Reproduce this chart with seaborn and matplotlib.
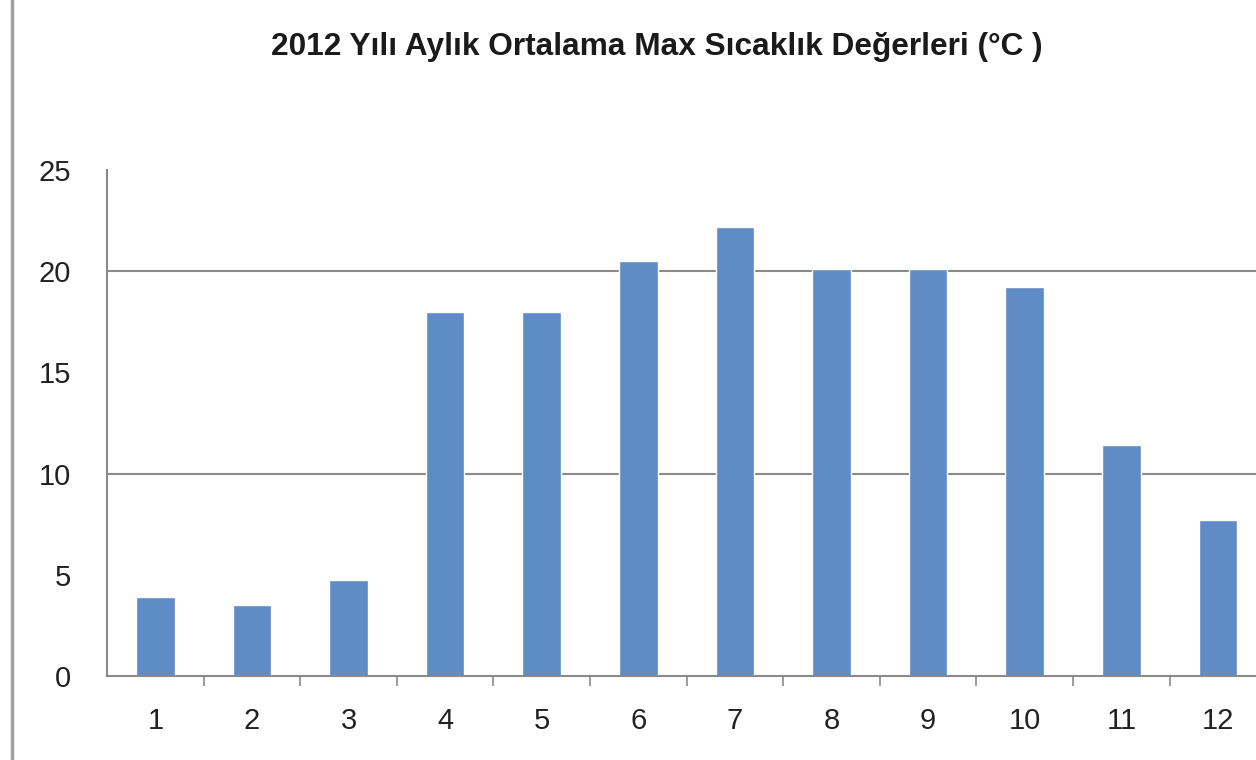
import matplotlib
matplotlib.use("Agg")
import matplotlib.pyplot as plt
from matplotlib.lines import Line2D
from matplotlib.ticker import FixedLocator
import seaborn as sns
import pandas as pd

# Monthly mean maximum temperatures for 2012 (°C)
months = ["1", "2", "3", "4", "5", "6", "7", "8", "9", "10", "11", "12"]
max_temps = [3.9, 3.5, 4.75, 18.0, 18.0, 20.5, 22.2, 20.1, 20.1, 19.2, 11.4, 7.7]
y_ticks = [0, 5, 10, 15, 20, 25]
grid_levels = [10, 20]
title_text = "2012 Yılı Aylık Ortalama Max Sıcaklık Değerleri (°C )"

df = pd.DataFrame({"month": months, "temp": max_temps})

sns.set_theme(style="white")
plt.rcParams["font.family"] = ["Liberation Sans", "DejaVu Sans"]

axis_gray = "#8a8a8a"
bar_blue = "#5F8CC4"

fig = plt.figure(figsize=(12.56, 7.6), dpi=100)
ax = fig.add_axes([0.0852, 0.1105, 0.923, 0.6658])

sns.barplot(data=df, x="month", y="temp", color=bar_blue, width=0.4,
            saturation=1, ax=ax, zorder=3)

ax.set_xlim(-0.5, len(months) - 0.5)
ax.set_ylim(0, 25)
ax.set_xlabel("")
ax.set_ylabel("")

# y axis: labels every 5, gridlines at 10 and 20 that poke out to the left
ax.yaxis.set_major_locator(FixedLocator(y_ticks))
ax.set_yticklabels([str(v) for v in y_ticks])
ax.yaxis.set_minor_locator(FixedLocator(grid_levels))
ax.tick_params(axis="y", which="major", length=0, pad=26, labelsize=21,
               labelcolor="#222222")
ax.tick_params(axis="y", which="minor", length=10, width=1.5,
               color=axis_gray, direction="out", left=True)
ax.grid(False)
for lvl in grid_levels:
    ax.axhline(lvl, color=axis_gray, lw=1.5, zorder=1)

# x axis: small tick marks on category boundaries
ax.xaxis.set_minor_locator(FixedLocator([i + 0.5 for i in range(len(months) - 1)]))
ax.tick_params(axis="x", which="major", length=0, pad=22, labelsize=21,
               labelcolor="#222222")
ax.tick_params(axis="x", which="minor", length=7, width=1.2,
               color=axis_gray, direction="out", bottom=True)

for side in ["top", "right"]:
    ax.spines[side].set_visible(False)
for side in ["left", "bottom"]:
    ax.spines[side].set_color(axis_gray)
    ax.spines[side].set_linewidth(1.5)
    ax.spines[side].set_zorder(4)

fig.text(0.523, 0.938, title_text, ha="center", va="center",
         fontsize=22.8, fontweight="bold", color="#1a1a1a")

# frame line along the left edge
fig.add_artist(Line2D([0.0095, 0.0095], [0, 1], transform=fig.transFigure,
                      color="#a0a0a0", lw=2.5))

fig.savefig("out.png", dpi=100)
